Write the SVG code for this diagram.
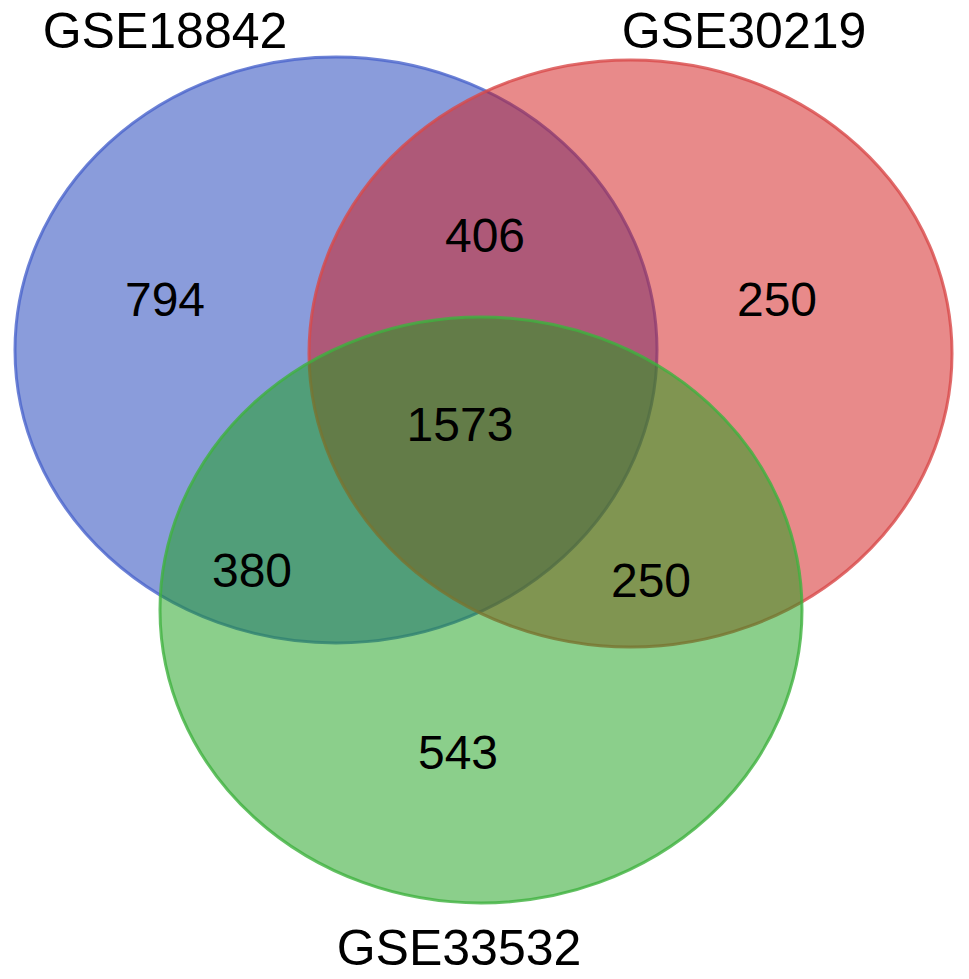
<svg xmlns="http://www.w3.org/2000/svg" width="969" height="979" viewBox="0 0 969 979">
<style>
.set{stroke-width:3}
.t{font-family:"Liberation Sans",Arial,Helvetica,sans-serif;fill:#000;text-anchor:middle}
.title{font-size:50px}
.num{font-size:48px}
</style>
<rect width="969" height="979" fill="#ffffff"/>
<g id="set-GSE18842">
<ellipse class="set" cx="336" cy="350" rx="321" ry="293" fill="#1539b7" fill-opacity="0.5" stroke="#4a64cc" stroke-opacity="0.8"/>
</g>
<g id="set-GSE30219">
<ellipse class="set" cx="630.5" cy="353.5" rx="321.5" ry="293.5" fill="#d11515" fill-opacity="0.5" stroke="#d84848" stroke-opacity="0.8"/>
</g>
<g id="set-GSE33532">
<ellipse class="set" cx="481" cy="610" rx="321" ry="293" fill="#179f17" fill-opacity="0.5" stroke="#3fb23f" stroke-opacity="0.8"/>
</g>
<g id="labels">
<text class="t title" x="165" y="48">GSE18842</text>
<text class="t title" x="744" y="48">GSE30219</text>
<text class="t title" x="459" y="965">GSE33532</text>
</g>
<g id="counts">
<text class="t num" x="165" y="316">794</text>
<text class="t num" x="485" y="252">406</text>
<text class="t num" x="777" y="316">250</text>
<text class="t num" x="460" y="441">1573</text>
<text class="t num" x="252" y="587">380</text>
<text class="t num" x="651" y="597">250</text>
<text class="t num" x="458" y="769">543</text>
</g>
</svg>
